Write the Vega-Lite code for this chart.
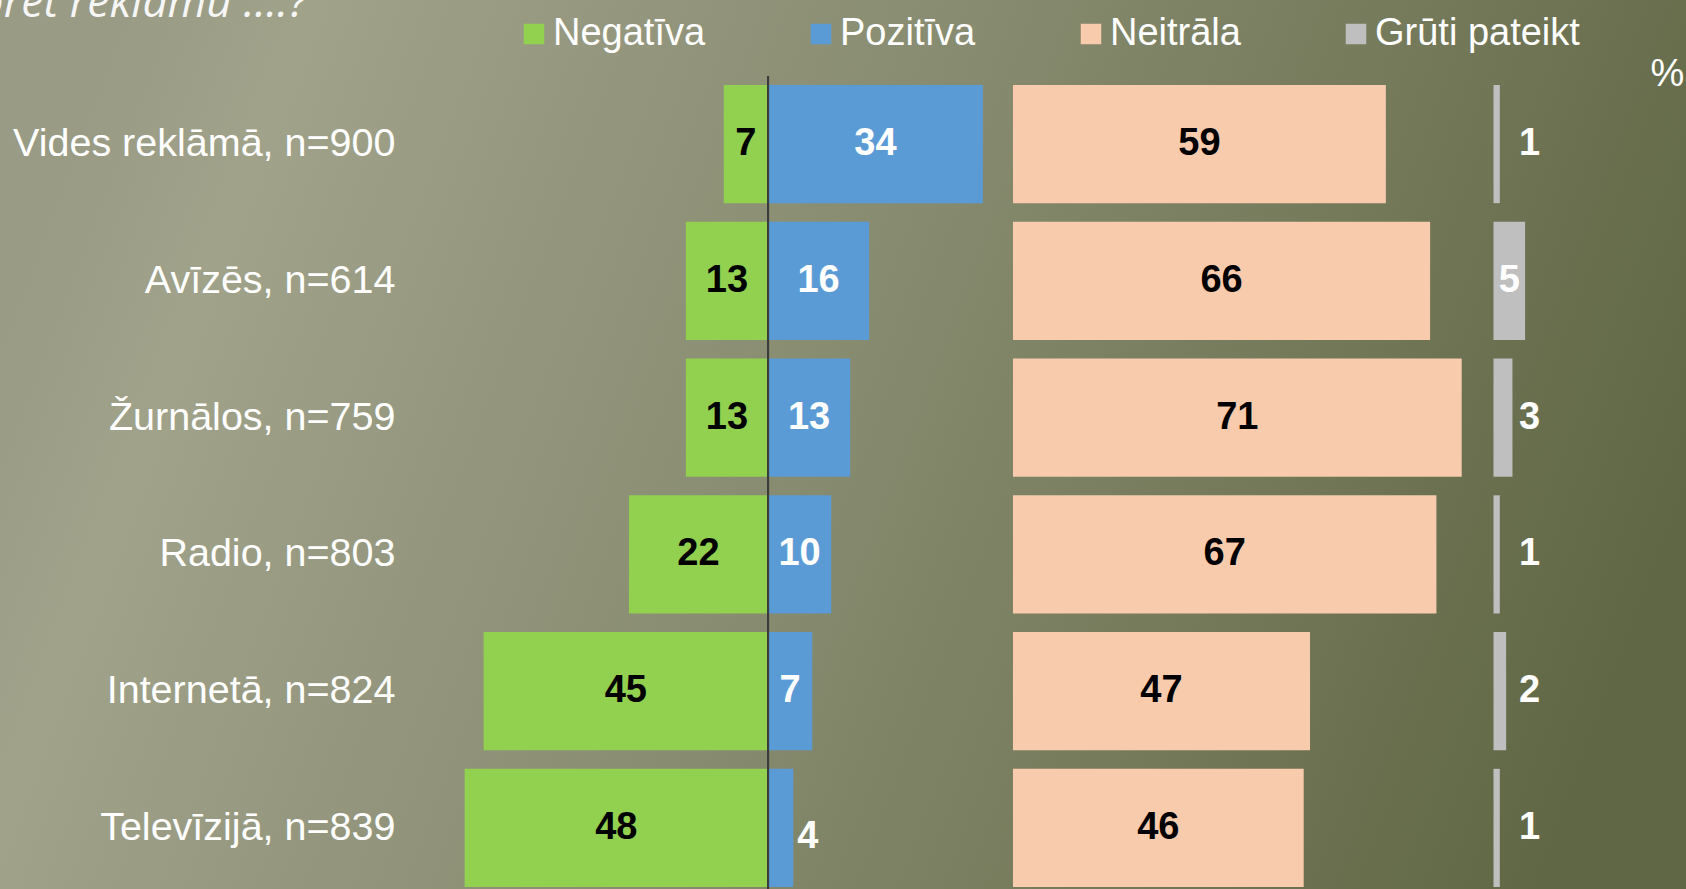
{
  "$schema": "https://vega.github.io/schema/vega-lite/v6.json",
  "width": 1686,
  "height": 889,
  "autosize": "none",
  "padding": 0,
  "background": "#878a6f",
  "view": {
    "stroke": null,
    "fill": {
      "gradient": "linear",
      "x1": 0, "y1": 0.4, "x2": 1, "y2": 0.6,
      "stops": [
        {"offset": 0, "color": "#999b84"},
        {"offset": 0.1, "color": "#a0a28a"},
        {"offset": 0.5, "color": "#868a6e"},
        {"offset": 1, "color": "#606744"}
      ]
    }
  },
  "title": {
    "text": "pret reklāmu ....?",
    "anchor": "start",
    "frame": "group",
    "orient": "top",
    "font": "Open Sans",
    "fontStyle": "italic",
    "fontWeight": "normal",
    "fontSize": 44.5,
    "color": "#f6f6f6",
    "baseline": "alphabetic",
    "offset": 0,
    "dx": -22,
    "dy": 61
  },
  "data": {
    "values": [
      {"cat": "Vides reklāmā, n=900", "type": "Negatīva", "value": 7},
      {"cat": "Vides reklāmā, n=900", "type": "Pozitīva", "value": 34},
      {"cat": "Vides reklāmā, n=900", "type": "Neitrāla", "value": 59},
      {"cat": "Vides reklāmā, n=900", "type": "Grūti pateikt", "value": 1},
      {"cat": "Avīzēs, n=614", "type": "Negatīva", "value": 13},
      {"cat": "Avīzēs, n=614", "type": "Pozitīva", "value": 16},
      {"cat": "Avīzēs, n=614", "type": "Neitrāla", "value": 66},
      {"cat": "Avīzēs, n=614", "type": "Grūti pateikt", "value": 5},
      {"cat": "Žurnālos, n=759", "type": "Negatīva", "value": 13},
      {"cat": "Žurnālos, n=759", "type": "Pozitīva", "value": 13},
      {"cat": "Žurnālos, n=759", "type": "Neitrāla", "value": 71},
      {"cat": "Žurnālos, n=759", "type": "Grūti pateikt", "value": 3},
      {"cat": "Radio, n=803", "type": "Negatīva", "value": 22},
      {"cat": "Radio, n=803", "type": "Pozitīva", "value": 10},
      {"cat": "Radio, n=803", "type": "Neitrāla", "value": 67},
      {"cat": "Radio, n=803", "type": "Grūti pateikt", "value": 1},
      {"cat": "Internetā, n=824", "type": "Negatīva", "value": 45},
      {"cat": "Internetā, n=824", "type": "Pozitīva", "value": 7},
      {"cat": "Internetā, n=824", "type": "Neitrāla", "value": 47},
      {"cat": "Internetā, n=824", "type": "Grūti pateikt", "value": 2},
      {"cat": "Televīzijā, n=839", "type": "Negatīva", "value": 48},
      {"cat": "Televīzijā, n=839", "type": "Pozitīva", "value": 4},
      {"cat": "Televīzijā, n=839", "type": "Neitrāla", "value": 46},
      {"cat": "Televīzijā, n=839", "type": "Grūti pateikt", "value": 1}
    ]
  },
  "encoding": {
    "y": {
      "field": "cat",
      "type": "nominal",
      "sort": ["Vides reklāmā, n=900", "Avīzēs, n=614", "Žurnālos, n=759", "Radio, n=803", "Internetā, n=824", "Televīzijā, n=839"],
      "scale": {"range": [85, 887], "paddingInner": 0.136, "paddingOuter": 0},
      "axis": {
        "title": "%",
        "titleAngle": 0,
        "titleX": 1247,
        "titleY": 74,
        "titleAlign": "center",
        "titleBaseline": "middle",
        "titleFont": "Liberation Sans",
        "titleFontSize": 38,
        "titleFontWeight": "normal",
        "titleColor": "#ffffff",
        "labelFont": "Liberation Sans",
        "labelFontSize": 39.5,
        "labelColor": "#ffffff",
        "labelPadding": 25,
        "labelLimit": 0,
        "ticks": false,
        "domain": false,
        "grid": false,
        "offset": -420
      }
    }
  },
  "layer": [
    {
      "transform": [{"filter": "datum.type === 'Negatīva'"}],
      "encoding": {
        "x": {"field": "value", "type": "quantitative", "scale": {"domain": [-145.25, 121.52], "reverse": true}, "axis": null}
      },
      "layer": [
        {
          "mark": {"type": "bar"},
          "encoding": {
            "color": {
              "field": "type",
              "type": "nominal",
              "scale": {"domain": ["Negatīva", "Pozitīva", "Neitrāla", "Grūti pateikt"], "range": ["#92d050", "#5b9bd5", "#f8cbad", "#bfbfbf"]},
              "legend": {
                "orient": "none",
                "legendX": 515,
                "legendY": 15,
                "direction": "horizontal",
                "title": null,
                "symbolType": "square",
                "symbolSize": 420,
                "symbolStrokeWidth": 0,
                "symbolOpacity": 1,
                "labelFont": "Liberation Sans",
                "labelFontSize": 38,
                "labelColor": "#ffffff",
                "labelOffset": 0,
                "labelLimit": 0,
                "columnPadding": 96,
                "padding": 0
              }
            }
          }
        },
        {
          "mark": {"type": "text", "font": "Liberation Sans", "fontWeight": "bold", "fontSize": 38, "color": "#000000", "align": "center", "baseline": "middle"},
          "encoding": {
            "x": {"field": "value", "type": "quantitative", "stack": "zero", "bandPosition": 0.5},
            "text": {"field": "value", "type": "quantitative"}
          }
        }
      ]
    },
    {
      "transform": [{"filter": "datum.type === 'Pozitīva'"}],
      "encoding": {
        "x": {"field": "value", "type": "quantitative", "scale": {"domain": [-121.52, 145.25]}, "axis": null}
      },
      "layer": [
        {
          "mark": {"type": "bar"},
          "encoding": {"color": {"field": "type", "type": "nominal"}}
        },
        {
          "transform": [{"filter": "datum.value >= 5"}],
          "mark": {"type": "text", "font": "Liberation Sans", "fontWeight": "bold", "fontSize": 38, "color": "#ffffff", "align": "center", "baseline": "middle"},
          "encoding": {
            "x": {"field": "value", "type": "quantitative", "stack": "zero", "bandPosition": 0.5},
            "text": {"field": "value", "type": "quantitative"}
          }
        },
        {
          "transform": [{"filter": "datum.value < 5"}],
          "mark": {"type": "text", "font": "Liberation Sans", "fontWeight": "bold", "fontSize": 38, "color": "#ffffff", "align": "left", "baseline": "middle", "dx": 4, "dy": 9},
          "encoding": {
            "x": {"field": "value", "type": "quantitative"},
            "text": {"field": "value", "type": "quantitative"}
          }
        },
        {
          "mark": {"type": "rule", "color": "#3c3c3c", "strokeWidth": 2, "yOffset": -68, "y2Offset": 62},
          "encoding": {
            "x": {"datum": 0, "type": "quantitative"},
            "y": {"datum": "Vides reklāmā, n=900", "type": "nominal"},
            "y2": {"datum": "Televīzijā, n=839"}
          }
        }
      ]
    },
    {
      "transform": [{"filter": "datum.type === 'Neitrāla'"}],
      "encoding": {
        "x": {"field": "value", "type": "quantitative", "scale": {"domain": [-160.28, 106.49]}, "axis": null}
      },
      "layer": [
        {
          "mark": {"type": "bar"},
          "encoding": {"color": {"field": "type", "type": "nominal"}}
        },
        {
          "mark": {"type": "text", "font": "Liberation Sans", "fontWeight": "bold", "fontSize": 38, "color": "#000000", "align": "center", "baseline": "middle"},
          "encoding": {
            "x": {"field": "value", "type": "quantitative", "stack": "zero", "bandPosition": 0.5},
            "text": {"field": "value", "type": "quantitative"}
          }
        }
      ]
    },
    {
      "transform": [{"filter": "datum.type === 'Grūti pateikt'"}],
      "encoding": {
        "x": {"field": "value", "type": "quantitative", "scale": {"domain": [-236.31, 30.46]}, "axis": null}
      },
      "layer": [
        {
          "mark": {"type": "bar"},
          "encoding": {"color": {"field": "type", "type": "nominal"}}
        },
        {
          "transform": [{"filter": "datum.value >= 5"}],
          "mark": {"type": "text", "font": "Liberation Sans", "fontWeight": "bold", "fontSize": 38, "color": "#ffffff", "align": "center", "baseline": "middle"},
          "encoding": {
            "x": {"field": "value", "type": "quantitative", "stack": "zero", "bandPosition": 0.5},
            "text": {"field": "value", "type": "quantitative"}
          }
        },
        {
          "transform": [{"filter": "datum.value < 5"}],
          "mark": {"type": "text", "font": "Liberation Sans", "fontWeight": "bold", "fontSize": 38, "color": "#ffffff", "align": "center", "baseline": "middle"},
          "encoding": {
            "x": {"datum": 5.7, "type": "quantitative"},
            "text": {"field": "value", "type": "quantitative"}
          }
        }
      ]
    }
  ],
  "resolve": {"scale": {"x": "independent"}, "axis": {"x": "independent"}},
  "config": {"view": {"stroke": null}}
}
